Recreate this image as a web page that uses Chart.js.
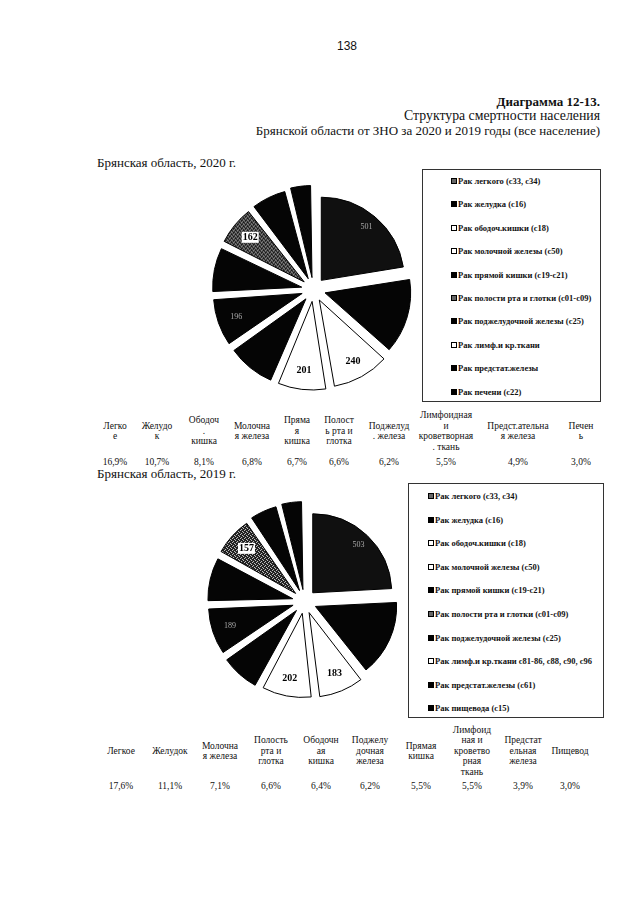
<!DOCTYPE html>
<html>
<head>
<meta charset="utf-8">
<script src="https://cdn.jsdelivr.net/npm/chart.js@4.4.1/dist/chart.umd.min.js"></script>
<style>
  body { margin: 0; background: #fff; }
  #page { position: relative; width: 640px; height: 905px; font-family: "Liberation Serif", serif; color: #111; overflow: hidden; }
  .t { position: absolute; white-space: nowrap; line-height: 1; }
  .box { position: absolute; border: 1px solid #333; box-sizing: border-box; }
  .li { position: absolute; font: bold 8.5px "Liberation Serif", serif; white-space: nowrap; line-height: 10px; }
  .mk { display: inline-block; width: 4px; height: 4px; border: 1px solid #000; margin-right: 1px; vertical-align: 0; }
  .col { position: absolute; display: flex; align-items: center; justify-content: center; text-align: center; white-space: pre-line; font-size: 9.5px; line-height: 10.5px; }
  .pct { position: absolute; text-align: center; font-size: 9.5px; line-height: 10px; }
  canvas { position: absolute; }
</style>
</head>
<body>
<div id="page">
  <div class="t" style="left:337px;top:39px;font:12px 'Liberation Sans',sans-serif;">138</div>
  <div class="t" style="right:40px;top:94px;font:bold 13px 'Liberation Serif',serif;">Диаграмма 12-13.</div>
  <div class="t" style="right:40px;top:109px;font-size:13.8px;">Структура смертности населения</div>
  <div class="t" style="right:40px;top:124px;font-size:13px;">Брянской области от ЗНО за 2020 и 2019 годы (все население)</div>

  <div class="t" style="left:97px;top:156px;font-size:13px;">Брянская область, 2020 г.</div>
  <canvas id="pie2020" width="215" height="215" style="left:206px;top:182px;"></canvas>
  <div class="box" id="leg2020" style="left:422px;top:169px;width:179px;height:233px;"></div>

  <div class="t" style="left:97px;top:467px;font-size:13px;">Брянская область, 2019 г.</div>
  <canvas id="pie2019" width="207" height="207" style="left:201px;top:498px;"></canvas>
  <div class="box" id="leg2019" style="left:408px;top:483px;width:196px;height:235px;"></div>
</div>

<script>
// 2020
const legend2020 = ['Рак легкого (c33, c34)', 'Рак желудка (c16)', 'Рак ободоч.кишки (c18)', 'Рак молочной железы (c50)',
  'Рак прямой кишки (c19-c21)', 'Рак полости рта и глотки (c01-c09)', 'Рак поджелудочной железы (c25)',
  'Рак лимф.и кр.ткани', 'Рак предстат.железы', 'Рак печени (c22)'];
const deaths2020 = [501, 317, 240, 201, 199, 196, 184, 162, 145, 89];
const shown2020 = [true, false, true, true, false, true, false, true, false, false];
const cols2020 = ['Легко\nе', 'Желудо\nк', 'Ободоч\n.\nкишка', 'Молочна\nя железа', 'Пряма\nя\nкишка',
  'Полост\nь рта и\nглотка', 'Поджелуд\n. железа', 'Лимфоидная\nи\nкроветворная\n. ткань',
  'Предст.ательна\nя железа', 'Печен\nь'];
const pct2020 = [16.9, 10.7, 8.1, 6.8, 6.7, 6.6, 6.2, 5.5, 4.9, 3.0];

// 2019
const legend2019 = ['Рак легкого (c33, c34)', 'Рак желудка (c16)', 'Рак ободоч.кишки (c18)', 'Рак молочной железы (c50)',
  'Рак прямой кишки (c19-c21)', 'Рак полости рта и глотки (c01-c09)', 'Рак поджелудочной железы (c25)',
  'Рак лимф.и кр.ткани c81-86, c88, c90, c96', 'Рак предстат.железы (c61)', 'Рак пищевода (c15)'];
const deaths2019 = [503, 317, 183, 202, 157, 189, 177, 157, 112, 86];
const shown2019 = [true, false, true, true, false, true, false, true, false, false];
const cols2019 = ['Легкое', 'Желудок', 'Молочна\nя железа', 'Полость\nрта и\nглотка', 'Ободочн\nая\nкишка',
  'Поджелу\nдочная\nжелеза', 'Прямая\nкишка', 'Лимфоид\nная и\nкроветво\nрная\nткань', 'Предстат\nельная\nжелеза', 'Пищевод'];
const pct2019 = [17.6, 11.1, 7.1, 6.6, 6.4, 6.2, 5.5, 5.5, 3.9, 3.0];

// slice look (same for both years)
const sliceKind = ['dark', 'black', 'white', 'white', 'black', 'black', 'black', 'dots', 'black', 'black'];
const markKind = ['grey', 'black', 'white', 'white', 'black', 'grey', 'black', 'white', 'black', 'black'];

const page = document.getElementById('page');

function dotPattern() {
  const c = document.createElement('canvas');
  c.width = 4; c.height = 4;
  const g = c.getContext('2d');
  g.fillStyle = '#1a1a1a';
  g.fillRect(0, 0, 4, 4);
  g.fillStyle = '#e0e0e0';
  g.fillRect(0, 0, 1, 1);
  g.fillRect(2, 1, 1, 1);
  g.fillRect(1, 3, 1, 1);
  g.fillRect(3, 2, 1, 1);
  return g.createPattern(c, 'repeat');
}

function fillFor(kind) {
  if (kind === 'white') return '#ffffff';
  if (kind === 'dark') return '#101010';
  if (kind === 'dots') return dotPattern();
  return '#050505';
}

// value labels on some slices
const sliceLabels = {
  id: 'sliceLabels',
  afterDatasetsDraw(chart, args, opts) {
    const ctx = chart.ctx;
    const arcs = chart.getDatasetMeta(0).data;
    const vals = chart.data.datasets[0].data;
    arcs.forEach((arc, i) => {
      if (!opts.shown[i]) return;
      const mid = (arc.startAngle + arc.endAngle) / 2;
      const r = arc.outerRadius * opts.dist + opts.off;
      const x = arc.x + Math.cos(mid) * r;
      const y = arc.y + Math.sin(mid) * r;
      const kind = sliceKind[i];
      ctx.save();
      ctx.textAlign = 'center';
      ctx.textBaseline = 'middle';
      if (kind === 'white' || kind === 'dots') {
        ctx.font = 'bold 10px "Liberation Serif"';
        if (kind === 'dots') {
          const w = ctx.measureText(vals[i]).width;
          ctx.fillStyle = '#fff';
          ctx.fillRect(x - w / 2 - 1, y - 6, w + 2, 11);
        }
        ctx.fillStyle = '#000';
      } else {
        ctx.font = '8px "Liberation Serif"';
        ctx.fillStyle = '#aaa';
      }
      ctx.fillText(vals[i], x, y);
      ctx.restore();
    });
  }
};

function makePie(id, values, shown) {
  const ctx = document.getElementById(id).getContext('2d');
  return new Chart(ctx, {
    type: 'pie',
    data: {
      labels: values.map((v, i) => i),
      datasets: [{
        data: values,
        backgroundColor: sliceKind.map(k => fillFor(k)),
        borderColor: '#000',
        borderWidth: 1,
        offset: 48,
        hoverOffset: 0
      }]
    },
    options: {
      responsive: false,
      animation: false,
      events: [],
      layout: { padding: 0 },
      plugins: {
        legend: { display: false },
        tooltip: { enabled: false },
        sliceLabels: { shown: shown, dist: 0.84, off: 12 }
      }
    },
    plugins: [sliceLabels]
  });
}

function makeLegend(boxId, labels, left, top, step) {
  const box = document.getElementById(boxId);
  labels.forEach((lab, i) => {
    const d = document.createElement('div');
    d.className = 'li';
    d.style.left = left + 'px';
    d.style.top = (top + i * step) + 'px';
    const m = document.createElement('span');
    m.className = 'mk';
    const k = markKind[i];
    m.style.background = k === 'white' ? '#fff' : (k === 'grey' ? '#666' : '#000');
    d.appendChild(m);
    d.appendChild(document.createTextNode(lab));
    box.appendChild(d);
  });
}

function makeTable(cols, pcts, centers, colTop, colH, pctTop, width) {
  cols.forEach((txt, i) => {
    const c = document.createElement('div');
    c.className = 'col';
    c.style.left = (centers[i] - width / 2) + 'px';
    c.style.width = width + 'px';
    c.style.top = colTop + 'px';
    c.style.height = colH + 'px';
    c.textContent = txt;
    page.appendChild(c);
    const p = document.createElement('div');
    p.className = 'pct';
    p.style.left = (centers[i] - 25) + 'px';
    p.style.width = '50px';
    p.style.top = pctTop + 'px';
    p.textContent = pcts[i].toFixed(1).replace('.', ',') + '%';
    page.appendChild(p);
  });
}

makePie('pie2020', deaths2020, shown2020);
makePie('pie2019', deaths2019, shown2019);

makeLegend('leg2020', legend2020, 28, 6, 23.4);
makeLegend('leg2019', legend2019, 19, 7, 23.6);

makeTable(cols2020, pct2020, [115, 157, 204, 252, 297, 339, 389, 446, 518, 581], 406, 50, 457, 70);
makeTable(cols2019, pct2019, [121, 170, 220, 271, 321, 370, 421, 472, 523, 570], 722, 58, 781, 52);
</script>
</body>
</html>
